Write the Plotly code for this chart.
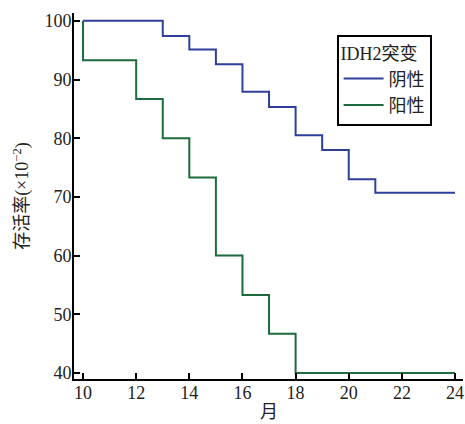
import plotly.graph_objects as go

months_neg = [10, 13, 14, 15, 16, 17, 18, 19, 20, 21, 24]
surv_neg = [100, 97.4, 95.1, 92.6, 87.9, 85.3, 80.5, 78.0, 73.0, 70.7, 70.7]
months_pos = [10, 10, 12, 13, 14, 15, 16, 17, 18, 24]
surv_pos = [100, 93.3, 86.7, 80.0, 73.3, 60.0, 53.3, 46.7, 40.0, 40.0]
series_names = ["阴性", "阳性"]
legend_title = "IDH2突变"
x_ticks = [10, 12, 14, 16, 18, 20, 22, 24]
y_ticks = [40, 50, 60, 70, 80, 90, 100]
x_title = "月"
y_title = "存活率(×10<sup>−2</sup>)"

FONT = "Liberation Serif, Times New Roman, Noto Sans CJK SC, serif"

fig = go.Figure()
fig.add_trace(go.Scatter(x=months_neg, y=surv_neg, mode="lines", line_shape="hv",
                         line=dict(color="#2f3f9c", width=2), name=series_names[0]))
fig.add_trace(go.Scatter(x=months_pos, y=surv_pos, mode="lines", line_shape="hv",
                         line=dict(color="#1c6b3c", width=2), name=series_names[1]))

fig.update_layout(
    width=465, height=424,
    margin=dict(l=74, r=2, t=13, b=45, autoexpand=False),
    paper_bgcolor="white", plot_bgcolor="white",
    font=dict(family=FONT, size=18, color="#222"),
    showlegend=True,
    legend=dict(title=dict(text=legend_title, font=dict(size=18)),
                x=0.675, y=0.94, xanchor="left", yanchor="top",
                bordercolor="black", borderwidth=2, bgcolor="white",
                font=dict(size=18), tracegroupgap=0, itemwidth=40),
    annotations=[
        dict(text=x_title, xref="paper", yref="paper", x=0.5, y=-0.09,
             xanchor="center", yanchor="middle", showarrow=False, font=dict(size=18)),
        dict(text=y_title, xref="paper", yref="paper", x=-0.134, y=0.5, textangle=-90,
             xanchor="center", yanchor="middle", showarrow=False, font=dict(size=18)),
    ],
)
fig.update_xaxes(range=[9.66, 24.3], tickvals=x_ticks, showgrid=False, zeroline=False,
                 automargin=False, showline=True, linecolor="black", linewidth=2,
                 ticks="inside", ticklen=6, tickwidth=2, tickcolor="black",
                 ticklabelstandoff=-4)
fig.update_yaxes(range=[38.98, 101.33], tickvals=y_ticks, showgrid=False, zeroline=False,
                 automargin=False, showline=True, linecolor="black", linewidth=2,
                 ticks="inside", ticklen=6, tickwidth=2, tickcolor="black",
                 ticklabelstandoff=-3)

fig.write_html("out.html", config={"displayModeBar": False},
               post_script="document.body.style.margin='0';document.body.style.overflow='hidden';")
